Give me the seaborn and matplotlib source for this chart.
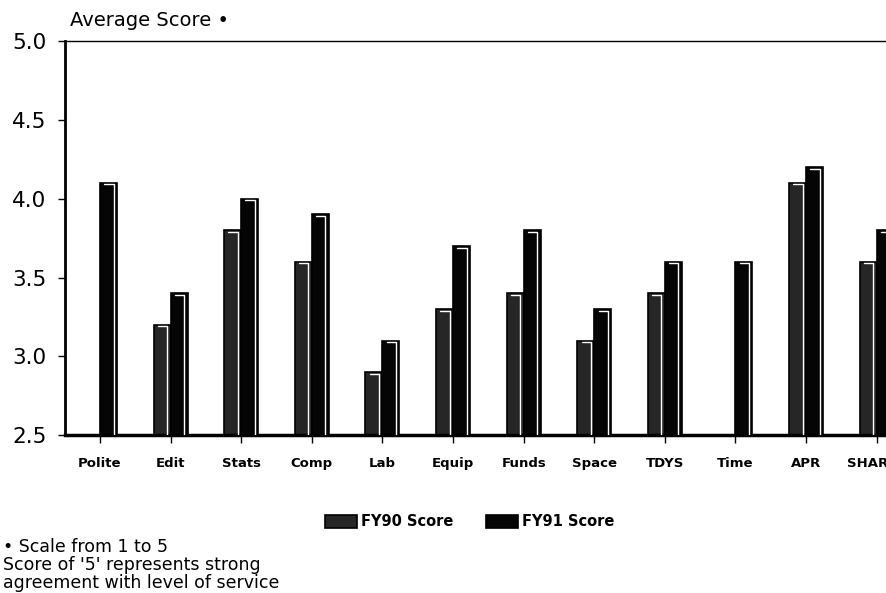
import matplotlib
matplotlib.use("Agg")
import matplotlib.pyplot as plt
import pandas as pd
import seaborn as sns
import numpy as np

categories = ["Polite", "Edit", "Stats", "Comp", "Lab", "Equip", "Funds",
              "Space", "TDYS", "Time", "APR", "SHARPE"]
fy90 = [np.nan, 3.2, 3.8, 3.6, 2.9, 3.3, 3.4, 3.1, 3.4, np.nan, 4.1, 3.6]
fy91 = [4.1, 3.4, 4.0, 3.9, 3.1, 3.7, 3.8, 3.3, 3.6, 3.6, 4.2, 3.8]
series = ["FY90 Score", "FY91 Score"]
yticks = [2.5, 3.0, 3.5, 4.0, 4.5, 5.0]

df = pd.DataFrame({"cat": categories * 2,
                   "score": fy90 + fy91,
                   "series": [series[0]] * len(categories) + [series[1]] * len(categories)})

sns.set_style("white")
plt.rcParams["font.family"] = ["DejaVu Sans"]
plt.rcParams["text.color"] = "black"
plt.rcParams["xtick.color"] = "black"
plt.rcParams["ytick.color"] = "black"

fig = plt.figure(figsize=(8.86, 5.93), dpi=100)
ax = fig.add_axes([0.073, 0.266, 0.95, 0.665])

sns.barplot(data=df, x="cat", y="score", hue="series", order=categories,
            hue_order=series, palette=["#262626", "#050505"], width=0.48,
            edgecolor="black", linewidth=1.2, ax=ax, legend=True)

# white highlight strip on the right side of each bar (3D look)
for p in ax.patches:
    h = p.get_height()
    if np.isnan(h) or h <= 0:
        continue
    x0, w = p.get_x(), p.get_width()
    ax.plot([x0 + w * 0.8, x0 + w * 0.8], [2.5, h - 0.01], color="white", lw=1.0,
            solid_capstyle="butt", zorder=3)
    ax.plot([x0 + w * 0.25, x0 + w * 0.8], [h - 0.01, h - 0.01], color="white", lw=1.0,
            zorder=3)

ax.set_ylim(2.5, 5.0)
ax.set_xlim(-0.5, 11.42)
ax.set_yticks(yticks)
ax.set_yticklabels([f"{t:.1f}" for t in yticks], fontsize=15.5)
ax.tick_params(axis="y", length=5, width=1, direction="out", left=True, pad=8)
ax.tick_params(axis="x", length=6, width=1, direction="out", bottom=True, pad=10)
for lab in ax.get_xticklabels():
    lab.set_fontsize(9.5)
    lab.set_fontweight("bold")
ax.set_xlabel("")
ax.set_ylabel("")

for s in ["top", "left", "bottom"]:
    ax.spines[s].set_visible(True)
    ax.spines[s].set_color("black")
ax.spines["right"].set_visible(False)
ax.spines["left"].set_linewidth(2)
ax.spines["bottom"].set_linewidth(2.5)
ax.spines["top"].set_linewidth(1)

fig.text(0.079, 0.966, "Average Score •", fontsize=14, ha="left", va="center")

handles, labels = ax.get_legend_handles_labels()
ax.legend(handles, labels, loc="center", bbox_to_anchor=(0.53, 0.12),
          bbox_transform=fig.transFigure, ncol=2, frameon=False,
          prop={"size": 10.5, "weight": "bold"}, handlelength=2.2,
          handleheight=1.0, columnspacing=2.2, handletextpad=0.3)

notes = ["• Scale from 1 to 5",
         "Score of '5' represents strong",
         "agreement with level of service"]
for i, line in enumerate(notes):
    fig.text(0.003, (41 - 18 * i) / 593, line, fontsize=12.5, ha="left", va="baseline")

fig.savefig("out.png", dpi=100)
